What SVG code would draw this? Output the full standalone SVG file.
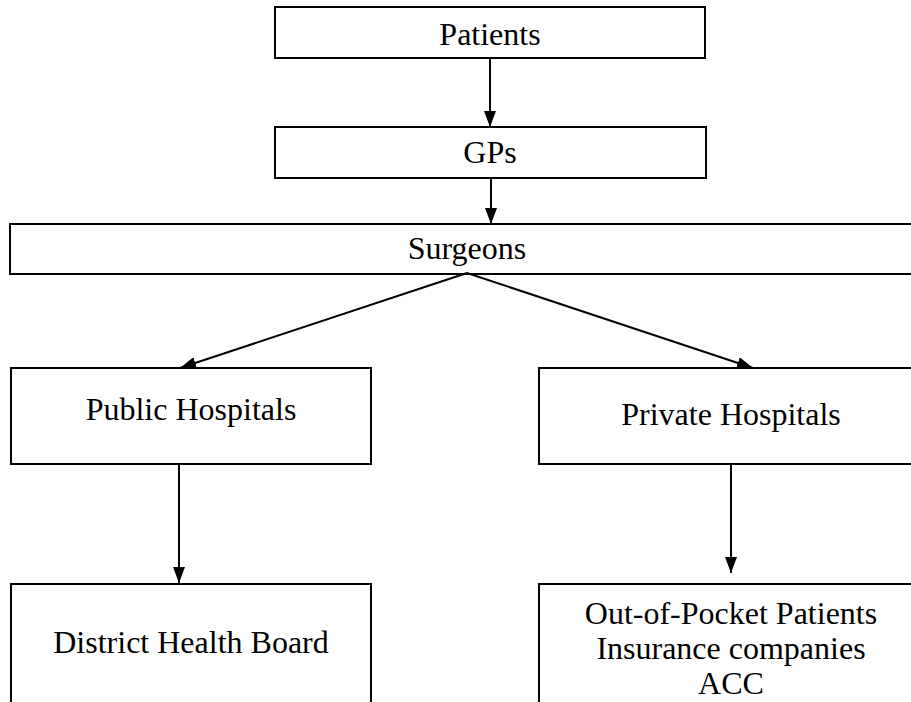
<svg xmlns="http://www.w3.org/2000/svg" width="911" height="702" viewBox="0 0 911 702">
<style>
.box{fill:#fff;stroke:#000;stroke-width:2}
.t{font-family:"Liberation Serif","Times New Roman",serif;font-size:32px;fill:#000;text-anchor:middle}
.c{stroke:#000;stroke-width:2;fill:none}
</style>
<defs>
<marker id="ah" viewBox="0 0 16 12" refX="16" refY="6" markerWidth="16" markerHeight="12" markerUnits="userSpaceOnUse" orient="auto">
<path d="M0,0 L16,6 L0,12 Z" fill="#000"/>
</marker>
</defs>
<rect width="911" height="702" fill="#fff"/>
<g id="patients"><rect class="box" x="275" y="7" width="430" height="51"/><text class="t" x="490" y="45">Patients</text></g>
<g id="gps"><rect class="box" x="275" y="127" width="431" height="51"/><text class="t" x="490" y="163">GPs</text></g>
<g id="surgeons"><rect class="box" x="10" y="224" width="916" height="50"/><text class="t" x="467" y="259">Surgeons</text></g>
<g id="public"><rect class="box" x="11" y="368" width="360" height="96"/><text class="t" x="191" y="420">Public Hospitals</text></g>
<g id="private"><rect class="box" x="539" y="368" width="390" height="96"/><text class="t" x="731" y="425">Private Hospitals</text></g>
<g id="dhb"><rect class="box" x="11" y="584" width="360" height="130"/><text class="t" x="191" y="653">District Health Board</text></g>
<g id="payers"><rect class="box" x="539" y="584" width="390" height="130"/><text class="t" x="731" y="624">Out-of-Pocket Patients</text><text class="t" x="731" y="659">Insurance companies</text><text class="t" x="731" y="694">ACC</text></g>
<g id="connectors">
<line class="c" x1="490" y1="58" x2="490" y2="127" marker-end="url(#ah)"/>
<line class="c" x1="491" y1="178" x2="491" y2="224" marker-end="url(#ah)"/>
<line class="c" x1="467" y1="273" x2="180" y2="368" marker-end="url(#ah)"/>
<line class="c" x1="467" y1="273" x2="753" y2="368" marker-end="url(#ah)"/>
<line class="c" x1="179" y1="464" x2="179" y2="583" marker-end="url(#ah)"/>
<line class="c" x1="731" y1="464" x2="731" y2="573" marker-end="url(#ah)"/>
</g>
</svg>
